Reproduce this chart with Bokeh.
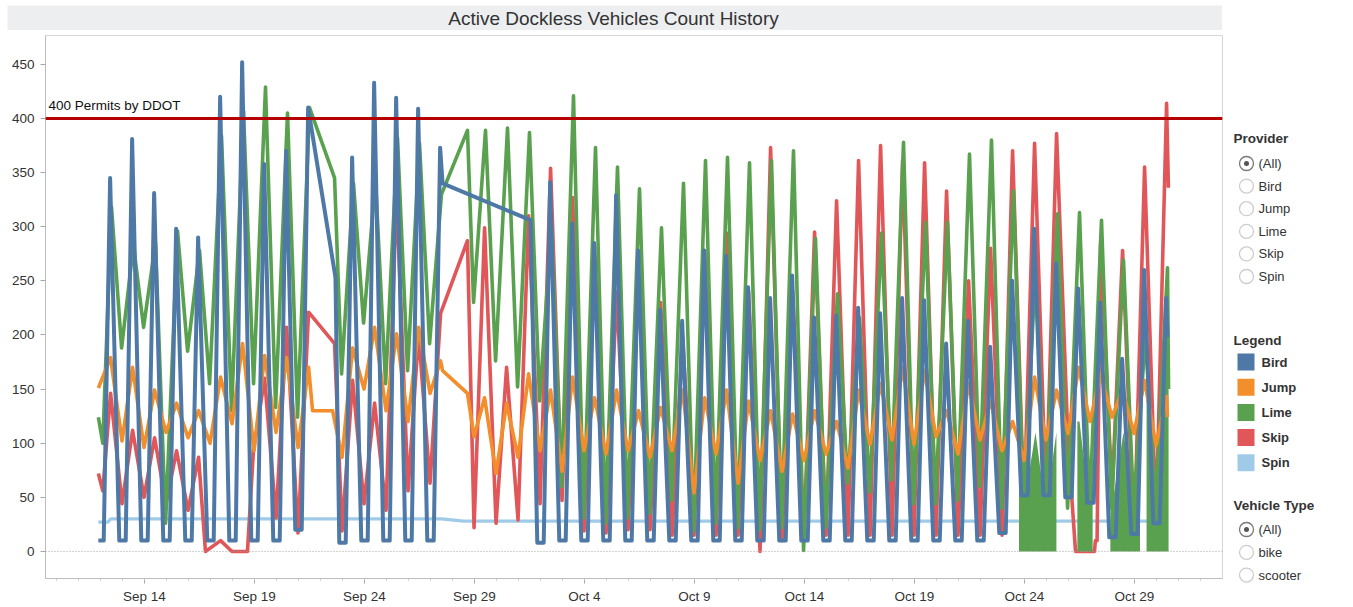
import numpy as np
import pandas as pd
from bokeh.plotting import figure
from bokeh.models import Range1d, Span, Label, FixedTicker, CustomJSTickFormatter, Spacer
from bokeh.layouts import row, column
from bokeh.embed import file_html
from bokeh.resources import INLINE
from bokeh.core.properties import value

FONT = "Liberation Sans"
START = pd.Timestamp("2018-09-12")

TITLE = "Active Dockless Vehicles Count History"
PERMIT_LEVEL = 400
PERMIT_LABEL = "400 Permits by DDOT"

providers = ["Bird", "Jump", "Lime", "Skip", "Spin"]
colors = ["#4e79a7", "#f28e2b", "#59a14f", "#e15759", "#a0cbe8"]
provider_filter = ["(All)", "Bird", "Jump", "Lime", "Skip", "Spin"]
vehicle_filter = ["(All)", "bike", "scooter"]

y_ticks = [0, 50, 100, 150, 200, 250, 300, 350, 400, 450]
x_label_days = ["2018-09-14", "2018-09-19", "2018-09-24", "2018-09-29", "2018-10-04",
                "2018-10-09", "2018-10-14", "2018-10-19", "2018-10-24", "2018-10-29"]

# ---- Bird: night low (before each day's peak) and daily peak, day 0 = Sep 12
bird_low = [10, 10, 10, 10, 10, 10, 10, 10, 10, 20, 10, 8, 10, 10, 10, 10, 10, 10, 10, 10,
            8, 10, 10, 10, 10, 10, 10, 10, 10, 10, 10, 10, 10, 10, 10, 10, 10, 10, 10, 10,
            10, 17, 52, 52, 50, 45, 13, 16, 26]
bird_peak = [345, 381, 331, 298, 290, 420, 452, 358, 370, 410, None, 364, 433, 419, 409, 373,
             None, None, None, None, 341, 303, 285, 329, 278, 223, 213, 278, 273, 244,
             234, 255, 216, 218, 225, 220, 234, 232, 192, 213, 189, 250, 298, 266, 243,
             230, 178, 260, 234]
bird_hours = (3.5, 10.5, 20.5)
bird_extra_t = ["2018-09-11 21:40", "2018-09-22 16:20", "2018-09-27 13:10",
                "2018-10-01 13:10", "2018-10-30 12:00"]
bird_extra_v = [10, 253, 340, 306, 198]
bird_gaps = [("2018-09-21 10:50", "2018-09-22 16:20"), ("2018-09-27 13:10", "2018-10-01 13:10")]
bird_end = "2018-10-30 12:00"

# ---- Lime
lime_peak = [318, 283, 285, 296, 278, 384, 407, 429, 405, 410, None, 340, 343, 382, 377, 330,
             None, 389, 391, 387, 300, 421, 373, 355, 335, 299, 340, 361, 364, 359, 361,
             370, 289, 238, 216, 294, 378, 304, 304, 367, 380, 333, 260, 312, 313, 306,
             269, 200, 262]
lime_trough = [188, 207, 26, 185, 155, 130, 155, 133, 124, None, 164, 211, 155, 167, 192,
               None, 230, 176, 152, 139, 60, 31, 26, 31, 35, 47, 19, 26, 22, 20, 22, 1, 22,
               63, 55, 66, 44, 44, 47, 60, 40, 40, 40, 40, 40, 40, 40, 40, None]
lime_hours = (12, 23)
lime_extra_t = ["2018-09-11 21:40", "2018-09-12 02:30", "2018-09-22 15:20",
                "2018-09-28 16:20", "2018-10-30 13:10"]
lime_extra_v = [124, 100, 345, 389, 150]
lime_gaps = [("2018-09-21 12:10", "2018-09-22 15:20"), ("2018-09-27 12:10", "2018-09-28 16:20")]
lime_end = "2018-10-30 13:10"
# periods where Lime readings repeatedly dropped to zero (start, end, typical top)
lime_dropouts = [("2018-10-23 18:00", "2018-10-25 10:50", 110),
                 ("2018-10-26 09:40", "2018-10-27 02:20", 120),
                 ("2018-10-27 21:40", "2018-10-29 06:00", 110),
                 ("2018-10-29 13:10", "2018-10-30 13:10", 230)]

# ---- Jump
jump_peak = [179, 170, 149, 137, 130, 161, 192, 181, 179, 170, None, 188, 207, 201, 207, 176,
             None, 142, 137, 164, 149, 161, 142, 149, 130, 133, 149, 142, 149, 139, 130,
             127, 130, 120, 149, 155, 170, 167, 130, 155, 139, 120, 161, 149, 170, 164,
             149, 158, 143]
jump_trough = [102, 96, 110, 105, 100, 118, 93, 110, 96, None, 87, 150, 130, 120, 146, None,
               106, 72, 87, 93, 74, 93, 90, 93, 87, 93, 54, 90, 63, 84, 74, 84, 90, 77, 99,
               103, 99, 106, 90, 103, 93, 84, 103, 109, 120, 124, 109, 98, None]
jump_hours = (11, 23.5)
jump_extra_t = ["2018-09-11 21:40", "2018-09-21 15:20", "2018-09-22 13:10",
                "2018-09-27 13:10", "2018-09-28 16:20", "2018-10-30 12:00"]
jump_extra_v = [151, 130, 130, 167, 146, 124]
jump_gaps = [("2018-09-21 15:20", "2018-09-22 13:10"), ("2018-09-27 13:10", "2018-09-28 16:20")]
jump_end = "2018-10-30 12:00"

# ---- Skip
skip_peak = [146, 112, 105, 93, 87, 10, None, 160, 207, 221, None, 158, 137, 331, 201, 220,
             None, 299, 170, 310, 354, 327, 281, 240, 250, 230, 198, 278, 294, 240, 373,
             240, 295, 324, 361, 375, 361, 359, 333, 250, 280, 370, 377, 386, None, 285,
             278, 355, 414]
skip_trough = [44, 50, 44, 38, None, 0, None, 31, 17, None, 19, 44, 38, 56, 63, None, 22, 26,
               29, 44, 47, 19, 17, 20, 20, 15, 15, 15, 15, 0, 10, 15, 15, 15, 15, 15, 15, 15,
               15, 15, 15, 40, 45, 100, None, 54, 7, 26, None]
skip_hours = (11, 23.5)
skip_extra_t = ["2018-09-11 21:40", "2018-09-12 02:30", "2018-09-16 18:30", "2018-09-18 16:20",
                "2018-09-18 22:50", "2018-09-22 15:20", "2018-09-28 16:20", "2018-10-26 07:40",
                "2018-10-27 04:20", "2018-10-27 05:20", "2018-10-27 07:10", "2018-10-30 13:00"]
skip_extra_v = [72, 56, 0, 0, 93, 192, 287, 0, 0, 10, 10, 336]
skip_gaps = [("2018-09-21 11:10", "2018-09-22 15:20"), ("2018-09-27 11:10", "2018-09-28 16:20")]
skip_end = "2018-10-30 13:00"

# ---- Spin
spin_t = ["2018-09-11 21:40", "2018-09-12 08:00", "2018-09-12 11:00", "2018-09-27 12:00",
          "2018-09-28 12:00", "2018-10-29 14:00"]
spin_v = [27, 27, 30, 30, 28, 28]


def build_series(hours_vals, extra_t, extra_v, gaps, end):
    ts, vs = [], []
    for h, vals in hours_vals:
        for k, v in enumerate(vals):
            if v is None:
                continue
            ts.append(START + pd.Timedelta(days=k) + pd.Timedelta(hours=h))
            vs.append(v)
    ts += [pd.Timestamp(t) for t in extra_t]
    vs += list(extra_v)
    gaps = [(pd.Timestamp(a), pd.Timestamp(b)) for a, b in gaps]
    first = min(pd.Timestamp(t) for t in extra_t)
    end = pd.Timestamp(end)
    out_t, out_v = [], []
    for i in sorted(range(len(ts)), key=lambda j: ts[j]):
        t = ts[i]
        if t > end or t < first:
            continue
        if any(a < t < b for a, b in gaps):
            continue
        out_t.append(t)
        out_v.append(vs[i])
    return out_t, out_v


bird_t, bird_v = build_series([(bird_hours[0], bird_low), (bird_hours[1], bird_peak),
                               (bird_hours[2], bird_low[1:] + [None])],
                              bird_extra_t, bird_extra_v, bird_gaps, bird_end)
lime_t, lime_v = build_series([(lime_hours[0], lime_peak), (lime_hours[1], lime_trough)],
                              lime_extra_t, lime_extra_v, lime_gaps, lime_end)
jump_t, jump_v = build_series([(jump_hours[0], jump_peak), (jump_hours[1], jump_trough)],
                              jump_extra_t, jump_extra_v, jump_gaps, jump_end)
skip_t, skip_v = build_series([(skip_hours[0], skip_peak), (skip_hours[1], skip_trough)],
                              skip_extra_t, skip_extra_v, skip_gaps, skip_end)
spin_tt = [pd.Timestamp(t) for t in spin_t]

col = dict(zip(providers, colors))

# ---------------- title bar (its own small canvas)
tfig = figure(width=1215, height=25, x_range=Range1d(0, 1215), y_range=Range1d(25, 0),
              toolbar_location=None, output_backend="svg", min_border=0)
tfig.axis.visible = False
tfig.grid.visible = False
tfig.outline_line_color = None
tfig.background_fill_color = "#eceef0"
tfig.border_fill_color = "#eceef0"
tfig.text(x=[606], y=[13], text=[TITLE], text_align="center", text_baseline="middle",
          text_font=value(FONT), text_font_size="19px", text_color="#333333")
title_row = row(Spacer(width=7, height=25), tfig)

# ---------------- main plot
p = figure(width=1224, height=576, x_axis_type="datetime",
           x_range=Range1d(START - pd.Timedelta(days=2.5), START + pd.Timedelta(days=51)),
           y_range=Range1d(-25, 476.6), toolbar_location=None, output_backend="svg",
           min_border_left=45, min_border_right=2, min_border_top=4, min_border_bottom=29)
p.grid.visible = False
p.outline_line_color = "#d6d6d6"
p.background_fill_color = "white"
p.border_fill_color = "white"

p.add_layout(Span(location=0, dimension="width", line_color="#a0a0a0", line_width=1,
                  line_dash="1 2"))

LW = 3.6
p.line(spin_tt, spin_v, line_color=col["Spin"], line_width=3.2)
p.line(skip_t, skip_v, line_color=col["Skip"], line_width=LW, line_join="round")

lt = np.array([t.value for t in lime_t], dtype=float)
lv = np.array(lime_v, dtype=float)
for a, b, cap in lime_dropouts:
    ta, tb = pd.Timestamp(a), pd.Timestamp(b)
    xs = [ta] + [t for t in lime_t if ta < t < tb] + [tb]
    ys = np.interp([x.value for x in xs], lt, lv)
    p.varea(x=xs, y1=0, y2=np.minimum(ys, cap), fill_color=col["Lime"])
p.line(lime_t, lime_v, line_color=col["Lime"], line_width=LW, line_join="round")
p.line(jump_t, jump_v, line_color=col["Jump"], line_width=LW, line_join="round")
p.line(bird_t, bird_v, line_color=col["Bird"], line_width=4, line_join="round")

p.add_layout(Span(location=PERMIT_LEVEL, dimension="width", line_color="#b60000",
                  line_width=3))
label_x = (START - pd.Timedelta(days=2.36)).value / 1e6
p.add_layout(Label(x=label_x, y=PERMIT_LEVEL, y_offset=13, text=PERMIT_LABEL,
                   text_font=FONT, text_font_size="13.5px", text_color="#111111",
                   text_baseline="alphabetic"))

major_ms = [pd.Timestamp(d).value / 1e6 for d in x_label_days]
minor_ms = [(START + pd.Timedelta(days=k)).value / 1e6 for k in range(-2, 51)]
p.xaxis.ticker = FixedTicker(ticks=major_ms, minor_ticks=minor_ms)
p.xaxis.formatter = CustomJSTickFormatter(code="""
const m = ['Jan','Feb','Mar','Apr','May','Jun','Jul','Aug','Sep','Oct','Nov','Dec'];
const d = new Date(tick);
return m[d.getUTCMonth()] + ' ' + d.getUTCDate();
""")
p.yaxis.ticker = FixedTicker(ticks=y_ticks)

for ax in (p.xaxis, p.yaxis):
    ax.axis_line_color = "#bdbdbd"
    ax.major_tick_line_color = "#a6a6a6"
    ax.minor_tick_line_color = "#c4c4c4"
    ax.major_tick_in = 0
    ax.minor_tick_in = 0
    ax.major_tick_out = 5
    ax.minor_tick_out = 2
    ax.major_label_text_font = FONT
    ax.major_label_text_font_size = "13.5px"
    ax.major_label_text_color = "#333333"
p.yaxis.minor_tick_line_color = None
p.yaxis.major_label_standoff = 6
p.xaxis.major_label_standoff = 5

# ---------------- side panel
side = figure(width=126, height=607, x_range=Range1d(1224, 1350), y_range=Range1d(607, 0),
              toolbar_location=None, output_backend="svg", min_border=0)
side.axis.visible = False
side.grid.visible = False
side.outline_line_color = None

hdr = dict(text_font=value(FONT), text_font_size="13.5px", text_font_style="bold",
           text_color="#333333", text_baseline="middle", text_align="left")
side.text(x=[1233, 1233, 1233], y=[138, 340, 505], text=["Provider", "Legend", "Vehicle Type"],
          **hdr)

prov_y = [163 + 22.6 * i for i in range(len(provider_filter))]
veh_y = [529 + 22.8 * i for i in range(len(vehicle_filter))]
leg_y = [361.5 + 25.2 * i for i in range(len(providers))]

for ys, labels in ((prov_y, provider_filter), (veh_y, vehicle_filter)):
    side.scatter(x=[1246] * len(ys), y=ys, marker="circle", size=14, fill_color="white",
                 line_color="#cccccc", line_width=1.3)
    side.scatter(x=[1246], y=[ys[0]], marker="circle", size=14, fill_color="white",
                 line_color="#7a7a7a", line_width=1.3)
    side.scatter(x=[1246], y=[ys[0]], marker="circle", size=5, fill_color="#555555",
                 line_color=None)
    side.text(x=[1258] * len(ys), y=ys, text=labels, text_font=value(FONT),
              text_font_size="13px", text_color="#333333", text_baseline="middle")

side.scatter(x=[1245.5] * len(providers), y=leg_y, marker="square", size=17,
             fill_color=colors, line_color=None)
side.text(x=[1261] * len(providers), y=leg_y, text=providers, text_font=value(FONT),
          text_font_size="13px", text_font_style="bold", text_color="#333333",
          text_baseline="middle")

left = column(Spacer(width=1224, height=5), title_row, Spacer(width=1224, height=1), p)
layout = row(left, side)
open("out.html", "w").write(file_html(layout, INLINE))
